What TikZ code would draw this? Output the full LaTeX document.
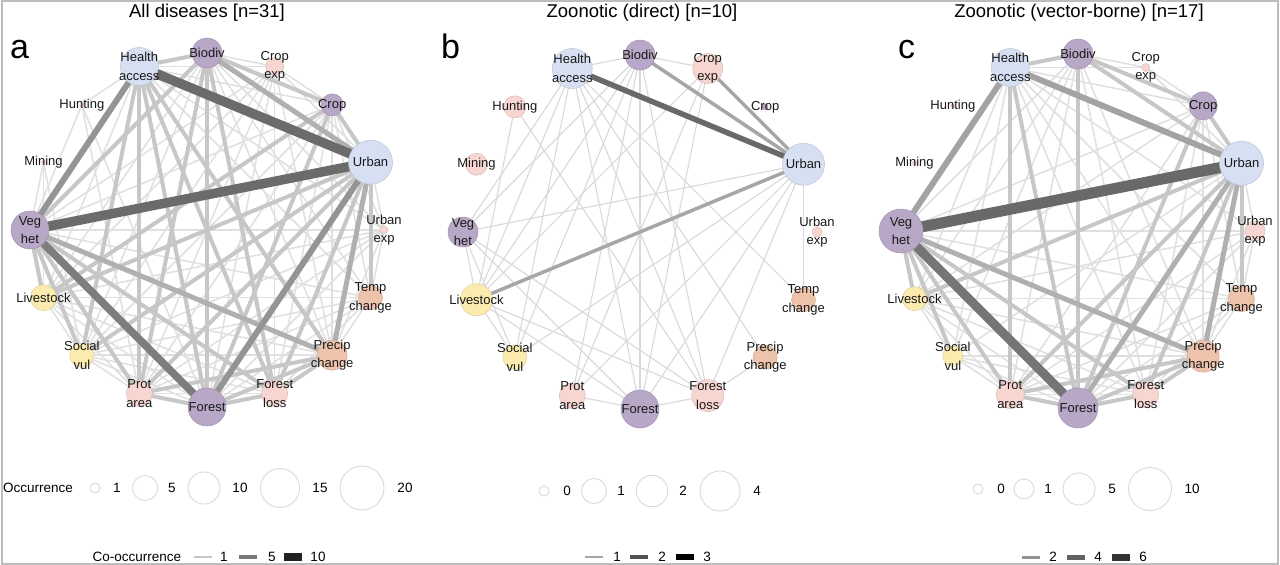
\documentclass[tikz,border=0pt]{standalone}
\usepackage{fontspec}
\setmainfont{Liberation Sans}
\usetikzlibrary{calc}
\pgfdeclarelayer{bg}
\pgfsetlayers{bg,main}
\definecolor{cpur}{HTML}{B8A7C6}
\definecolor{cpink}{HTML}{F7D6D2}
\definecolor{cblue}{HTML}{D7DFF3}
\definecolor{cpeach}{HTML}{EDC3AC}
\definecolor{cyel}{HTML}{FBEBAE}
\definecolor{framecol}{HTML}{BDBDBD}
\definecolor{legcirc}{HTML}{DADADA}
\tikzset{
  x=1pt, y=-1pt,
  nd/.style={circle, inner sep=0pt, outer sep=0pt, line width=0.5pt},
  lab/.style={align=center, font=\fontsize{13}{18.5}\selectfont, inner sep=0pt, text=black!90},
  ttl/.style={font=\fontsize{18.5}{20}\selectfont, anchor=base, inner sep=0pt},
  letter/.style={font=\fontsize{34}{34}\selectfont, anchor=base west, inner sep=0pt},
  legtxt/.style={font=\fontsize{13.5}{15}\selectfont, inner sep=0pt},
  legc/.style={circle, draw=legcirc, line width=0.9pt, inner sep=0pt},
  swatch/.style={rectangle, inner sep=0pt, minimum width=18pt},
  ea6/.style={draw=black!58, line width=9.5pt},
  ea5/.style={draw=black!51, line width=7.5pt},
  ea4/.style={draw=black!42, line width=6pt},
  ea3/.style={draw=black!31, line width=5pt},
  ea2/.style={draw=black!22, line width=4pt},
  ea1/.style={draw=black!12, line width=1.5pt},
  eb3/.style={draw=black!59, line width=5.5pt},
  eb2/.style={draw=black!35, line width=3.5pt},
  eb1/.style={draw=black!15, line width=1.1pt},
  ec6/.style={draw=black!59, line width=11pt},
  ec5/.style={draw=black!54, line width=9pt},
  ec4/.style={draw=black!36, line width=6pt},
  ec3/.style={draw=black!31, line width=5pt},
  ec2/.style={draw=black!22, line width=4pt},
  ec1/.style={draw=black!12, line width=1.5pt},
}
\newcommand\mkpanel[4]{%
  \foreach \k/\col/\txt in {0/cpur/Biodiv, 1/cpink/{Crop\\exp}, 2/cpur/Crop, 3/cblue/Urban,
     4/cpink/{Urban\\exp}, 5/cpeach/{Temp\\change}, 6/cpeach/{Precip\\change}, 7/cpink/{Forest\\loss},
     8/cpur/Forest, 9/cpink/{Prot\\area}, 10/cyel/{Social\\vul}, 11/cyel/Livestock,
     12/cpur/{Veg\\het}, 13/cpink/Mining, 14/cpink/Hunting, 15/cblue/{Health\\access}}{
    \pgfmathsetmacro\dia{2*{#4}[\k]}
    \node[nd, fill=\col, draw=\col!88!black, minimum size=\dia pt] (#1\k) at ($(#2,#3)+(22.5*\k-90:177)$) {};
    \node[lab] (#1\k t) at (#1\k.center) {\txt};
  }%
}
\newcommand\edges[3]{\foreach \u/\v in {#3} {\draw[#2] (#1\u.center) -- (#1\v.center);}}
\begin{document}
\begin{tikzpicture}
\useasboundingbox (0,0) rectangle (1280,565);
\begin{pgfonlayer}{bg}
\fill[white] (0,0) rectangle (1280,565);
\end{pgfonlayer}

% ---------- panels ----------
\mkpanel{a}{207}{230}{15,9,11,22,4,12,15,13,19,13,12,13,19,2,2,19}
\mkpanel{b}{640}{232}{15,15,3,21,5,12,12,16,19,13,12,16,15,11,11,20}
\mkpanel{c}{1078}{231}{15,4,14,22,10,13,16,13,20,14,10,12,22,2,2,19}

\begin{pgfonlayer}{bg}
% panel a
\edges{a}{ea1}{0/1, 1/2, 1/3, 1/15, 1/8, 1/12, 1/6, 1/7, 1/9, 1/10, 1/11, 2/15, 2/12, 2/9, 2/6, 2/5, 2/7, 2/10, 3/4, 4/12, 4/5, 4/9, 4/10, 4/11, 4/8, 5/6, 5/8, 5/12, 5/9, 5/10, 5/11, 5/7, 6/10, 6/11, 7/9, 7/10, 7/11, 8/10, 8/11, 9/10, 9/11, 10/11, 12/13, 13/11, 14/15, 14/9, 14/8, 13/10, 12/14, 15/11, 15/5, 0/10, 0/11, 0/6, 0/5, 0/4, 15/4, 6/4, 2/4}
\edges{a}{ea2}{0/8, 15/8, 15/6, 15/9, 0/9, 3/9, 11/3, 12/7, 3/5, 15/0, 2/11, 3/10, 0/7, 9/8, 8/7, 8/6, 7/6, 9/6, 12/9, 12/11, 0/2, 2/3, 15/7, 0/12, 3/7, 2/8, 12/10, 15/10}
\edges{a}{ea3}{0/3, 12/6, 3/6}
\edges{a}{ea4}{15/12, 8/3}
\edges{a}{ea5}{12/8}
\edges{a}{ea6}{15/3, 12/3}
% panel b
\edges{b}{eb1}{15/0, 0/1, 15/12, 15/11, 15/10, 15/8, 15/7, 15/5, 15/6, 0/12, 0/11, 0/10, 0/8, 0/7, 0/9, 1/11, 1/9, 1/8, 14/11, 14/7, 12/11, 12/10, 12/8, 12/7, 12/3, 11/10, 11/8, 11/7, 10/3, 9/8, 9/3, 8/7, 8/3, 7/6, 7/3, 3/5}
\edges{b}{eb2}{0/3, 1/3, 11/3}
\edges{b}{eb3}{15/3}
% panel c
\edges{c}{ec1}{0/1, 1/2, 1/3, 1/15, 2/15, 2/12, 2/9, 2/6, 2/5, 2/7, 3/4, 4/12, 4/5, 4/9, 4/8, 5/6, 5/8, 5/12, 5/9, 5/11, 5/7, 6/10, 6/11, 7/9, 7/10, 7/11, 8/10, 8/11, 9/10, 9/11, 10/11, 15/11, 15/10, 15/5, 15/7, 0/11, 0/10, 0/6, 0/7, 0/12, 0/9, 3/10, 11/2, 4/11, 6/4, 15/6, 15/4}
\edges{c}{ec2}{0/3, 0/8, 15/8, 15/9, 11/3, 12/7, 12/9, 2/3, 0/2, 9/8, 8/7, 8/6, 7/6, 9/6, 3/9, 15/0, 12/10, 12/11, 3/5, 3/7, 2/8}
\edges{c}{ec3}{8/3, 3/6, 12/6}
\edges{c}{ec4}{15/3, 15/12}
\edges{c}{ec5}{12/8}
\edges{c}{ec6}{12/3}
\end{pgfonlayer}

% ---------- titles and letters ----------
\node[ttl] (ta) at (207,17) {All diseases [n=31]};
\node[ttl] (tb) at (642,17) {Zoonotic (direct) [n=10]};
\node[ttl] (tc) at (1079,17) {Zoonotic (vector-borne) [n=17]};
\node[letter] (la) at (10,58) {a};
\node[letter] (lb) at (441,58) {b};
\node[letter] (lc) at (898,58) {c};

% ---------- occurrence legends ----------
\node[legtxt, anchor=west] (occ) at (3,488) {Occurrence};
\foreach \n/\x/\r/\lx/\t in {1/95/5/117/1, 2/145/12.5/172/5, 3/204/16/240/10, 4/280/19.5/320/15, 5/362/22/405/20}{
  \node[legc, minimum size=2*\r pt] (oa\n) at (\x,488) {};
  \node[legtxt] (oa\n t) at (\lx,488) {\t};
}
\foreach \n/\x/\r/\lx/\t in {1/544/5/567/0, 2/594/12.5/621/1, 3/652/15.7/683/2, 4/720/20/757/4}{
  \node[legc, minimum size=2*\r pt] (ob\n) at (\x,491) {};
  \node[legtxt] (ob\n t) at (\lx,491) {\t};
}
\foreach \n/\x/\r/\lx/\t in {1/978/5/1001/0, 2/1024/10/1048/1, 3/1079/16/1112/5, 4/1150/21.5/1192/10}{
  \node[legc, minimum size=2*\r pt] (oc\n) at (\x,489) {};
  \node[legtxt] (oc\n t) at (\lx,489) {\t};
}

% ---------- co-occurrence legends ----------
\node[legtxt] (cooc) at (137,557) {Co-occurrence};
\foreach \n/\x/\h/\c/\lx/\t in {1/202.5/1.6/black!22/224/1, 2/247.5/4.5/black!52/272/5, 3/292.5/7.5/black!87/318/10}{
  \node[swatch, fill=\c, minimum height=\h pt] (sa\n) at (\x,557) {};
  \node[legtxt] (sa\n t) at (\lx,557) {\t};
}
\foreach \n/\x/\h/\c/\lx/\t in {1/594/1.6/black!35/617/1, 2/639/4.5/black!68/662/2, 3/684.5/6.5/black/707/3}{
  \node[swatch, fill=\c, minimum height=\h pt] (sb\n) at (\x,557) {};
  \node[legtxt] (sb\n t) at (\lx,557) {\t};
}
\foreach \n/\x/\h/\c/\lx/\t in {1/1031/3/black!42/1053/2, 2/1076/5/black!62/1098/4, 3/1121/7/black!80/1143/6}{
  \node[swatch, fill=\c, minimum height=\h pt] (sc\n) at (\x,557) {};
  \node[legtxt] (sc\n t) at (\lx,557) {\t};
}

% ---------- frame ----------
\draw[framecol, line width=2pt] (1.5,1) rectangle (1278,563.5);
\end{tikzpicture}
\end{document}
